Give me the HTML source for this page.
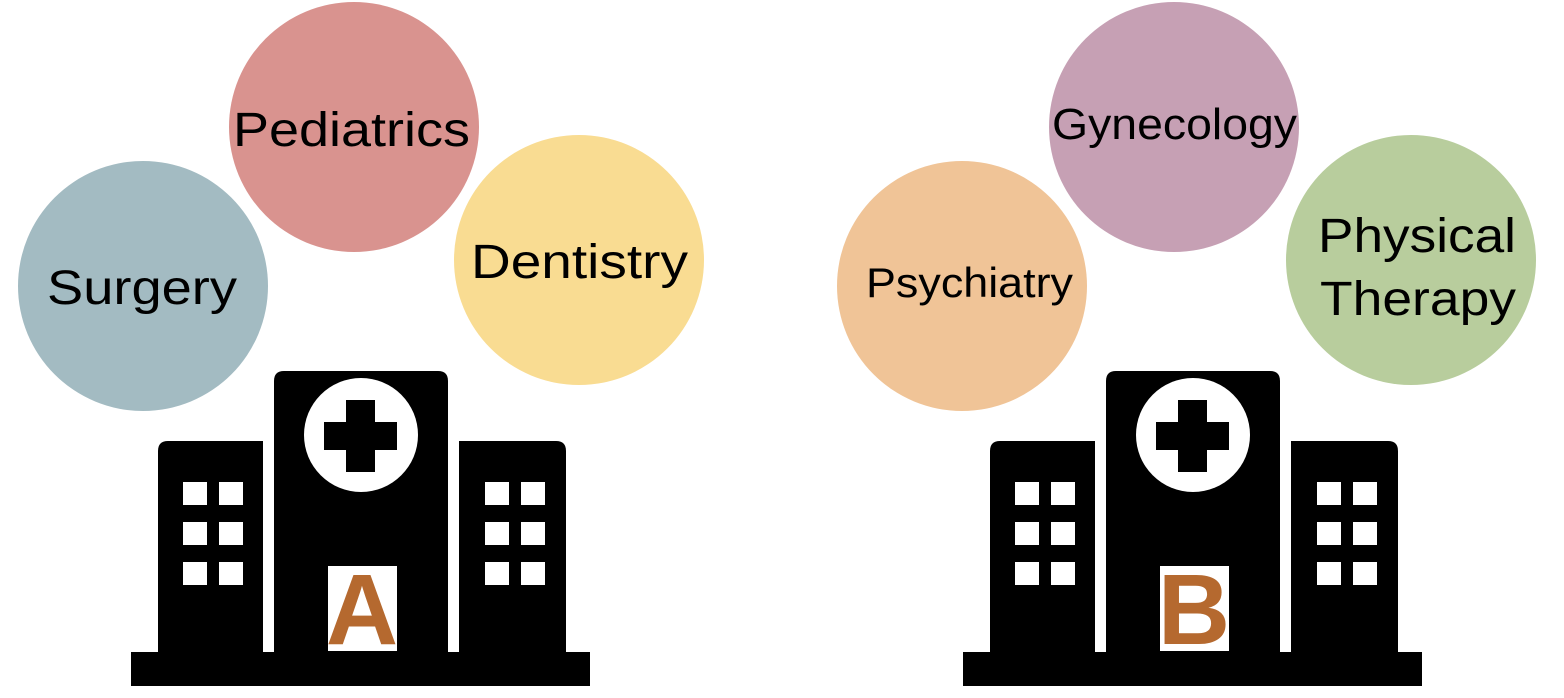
<!DOCTYPE html>
<html><head><meta charset="utf-8"><style>
html,body{margin:0;padding:0;background:#fff;width:1564px;height:698px;overflow:hidden}
svg text{font-family:"Liberation Sans",sans-serif;fill:#000}
</style></head><body>
<svg width="1564" height="698" viewBox="0 0 1564 698" xmlns="http://www.w3.org/2000/svg">
<defs>
<g id="hosp">
<rect x="131" y="652" width="459" height="34" fill="#000"/>
<path d="M158 652 V451 Q158 441 168 441 H263 V652 Z" fill="#000"/>
<path d="M274 652 V381 Q274 371 284 371 H438 Q448 371 448 381 V652 Z" fill="#000"/>
<path d="M459 652 V441 H556 Q566 441 566 451 V652 Z" fill="#000"/>
<circle cx="361" cy="435" r="57" fill="#fff"/>
<rect x="324" y="422" width="73" height="28" fill="#000"/>
<rect x="346" y="400" width="29" height="72" fill="#000"/>
<g fill="#fff">
<rect x="183" y="482" width="24" height="23"/><rect x="219" y="482" width="24" height="23"/>
<rect x="183" y="522" width="24" height="23"/><rect x="219" y="522" width="24" height="23"/>
<rect x="183" y="562" width="24" height="23"/><rect x="219" y="562" width="24" height="23"/>
<rect x="485" y="482" width="24" height="23"/><rect x="521" y="482" width="24" height="23"/>
<rect x="485" y="522" width="24" height="23"/><rect x="521" y="522" width="24" height="23"/>
<rect x="485" y="562" width="24" height="23"/><rect x="521" y="562" width="24" height="23"/>
<rect x="328" y="566" width="69" height="85"/>
</g>
</g>
</defs>
<circle cx="143" cy="286" r="125" fill="#a3bbc2"/>
<circle cx="354" cy="127" r="125" fill="#d9938f"/>
<circle cx="579" cy="260" r="125" fill="#f9dc92"/>
<circle cx="962" cy="286" r="125" fill="#f0c497"/>
<circle cx="1174" cy="127" r="125" fill="#c6a0b4"/>
<circle cx="1411" cy="260" r="125" fill="#b8cd9d"/>
<text x="47" y="304" font-size="48" textLength="190" lengthAdjust="spacingAndGlyphs">Surgery</text>
<text x="233" y="146" font-size="48" textLength="237" lengthAdjust="spacingAndGlyphs">Pediatrics</text>
<text x="471" y="278" font-size="48" textLength="217" lengthAdjust="spacingAndGlyphs">Dentistry</text>
<text x="866" y="297" font-size="42" textLength="207" lengthAdjust="spacingAndGlyphs">Psychiatry</text>
<text x="1052" y="139" font-size="44" textLength="245" lengthAdjust="spacingAndGlyphs">Gynecology</text>
<text x="1318" y="252" font-size="48" textLength="198" lengthAdjust="spacingAndGlyphs">Physical</text>
<text x="1320" y="315" font-size="48" textLength="196" lengthAdjust="spacingAndGlyphs">Therapy</text>
<use href="#hosp"/>
<use href="#hosp" transform="translate(832,0)"/>
<text x="362" y="644" font-size="100" font-weight="bold" text-anchor="middle" style="fill:#b5692f">A</text>
<text x="1194" y="644" font-size="100" font-weight="bold" text-anchor="middle" style="fill:#b5692f">B</text>
</svg>
</body></html>
